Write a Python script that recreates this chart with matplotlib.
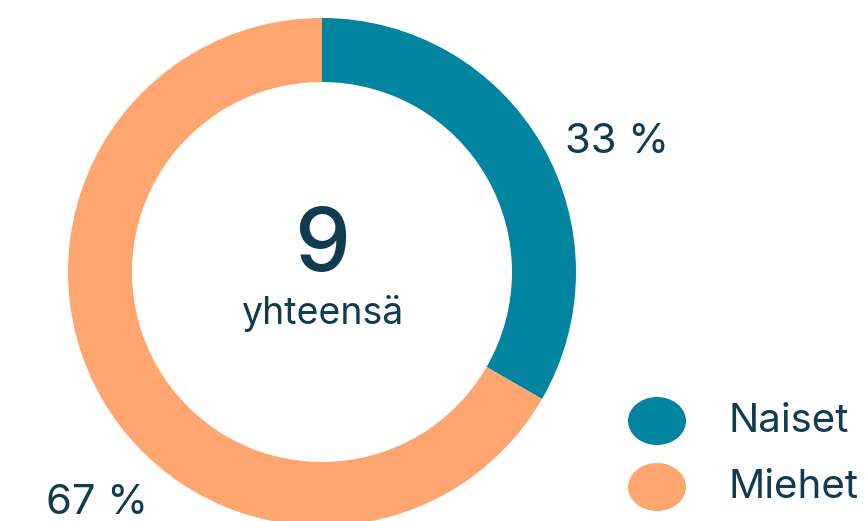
import matplotlib
matplotlib.use("Agg")
import matplotlib.pyplot as plt
from matplotlib.patches import Ellipse

categories = ["Naiset", "Miehet"]
values = [3, 6]
colors = ["#00849F", "#FFA56F"]
pct_labels = ["33 %", "67 %"]
total_label = "9"
total_sub = "yhteensä"
text_color = "#0F3C50"

plt.rcParams['font.family'] = ['Inter', 'DejaVu Sans']

W, H = 866, 521
fig = plt.figure(figsize=(W/100, H/100), dpi=100)
ax = fig.add_axes([0, 0, 1, 1])

cx, cy = 322, H - 272
R = 254
ax.pie(values, colors=colors, radius=R, center=(cx, cy), startangle=90,
       counterclock=False, wedgeprops=dict(width=64, linewidth=0),
       frame=True)
ax.set_xlim(0, W)
ax.set_ylim(0, H)
ax.set_aspect('equal')
ax.axis('off')

ax.text(cx, H - 248, total_label, ha='center', va='center', fontsize=64,
        color=text_color, fontweight='medium')
ax.text(cx, H - 313, total_sub, ha='center', va='center', fontsize=27,
        color=text_color)

ax.text(617, H - 142, pct_labels[0], ha='center', va='center', fontsize=30,
        color=text_color)
ax.text(97, H - 503, pct_labels[1], ha='center', va='center', fontsize=30,
        color=text_color)

for i, (cat, col) in enumerate(zip(categories, colors)):
    y = H - (421 + i * 66)
    ax.add_patch(Ellipse((657, y), 58, 48, color=col, lw=0))
    ax.text(728, y, cat, ha='left', va='center', fontsize=29, color=text_color)

fig.savefig("out.png", dpi=100)
